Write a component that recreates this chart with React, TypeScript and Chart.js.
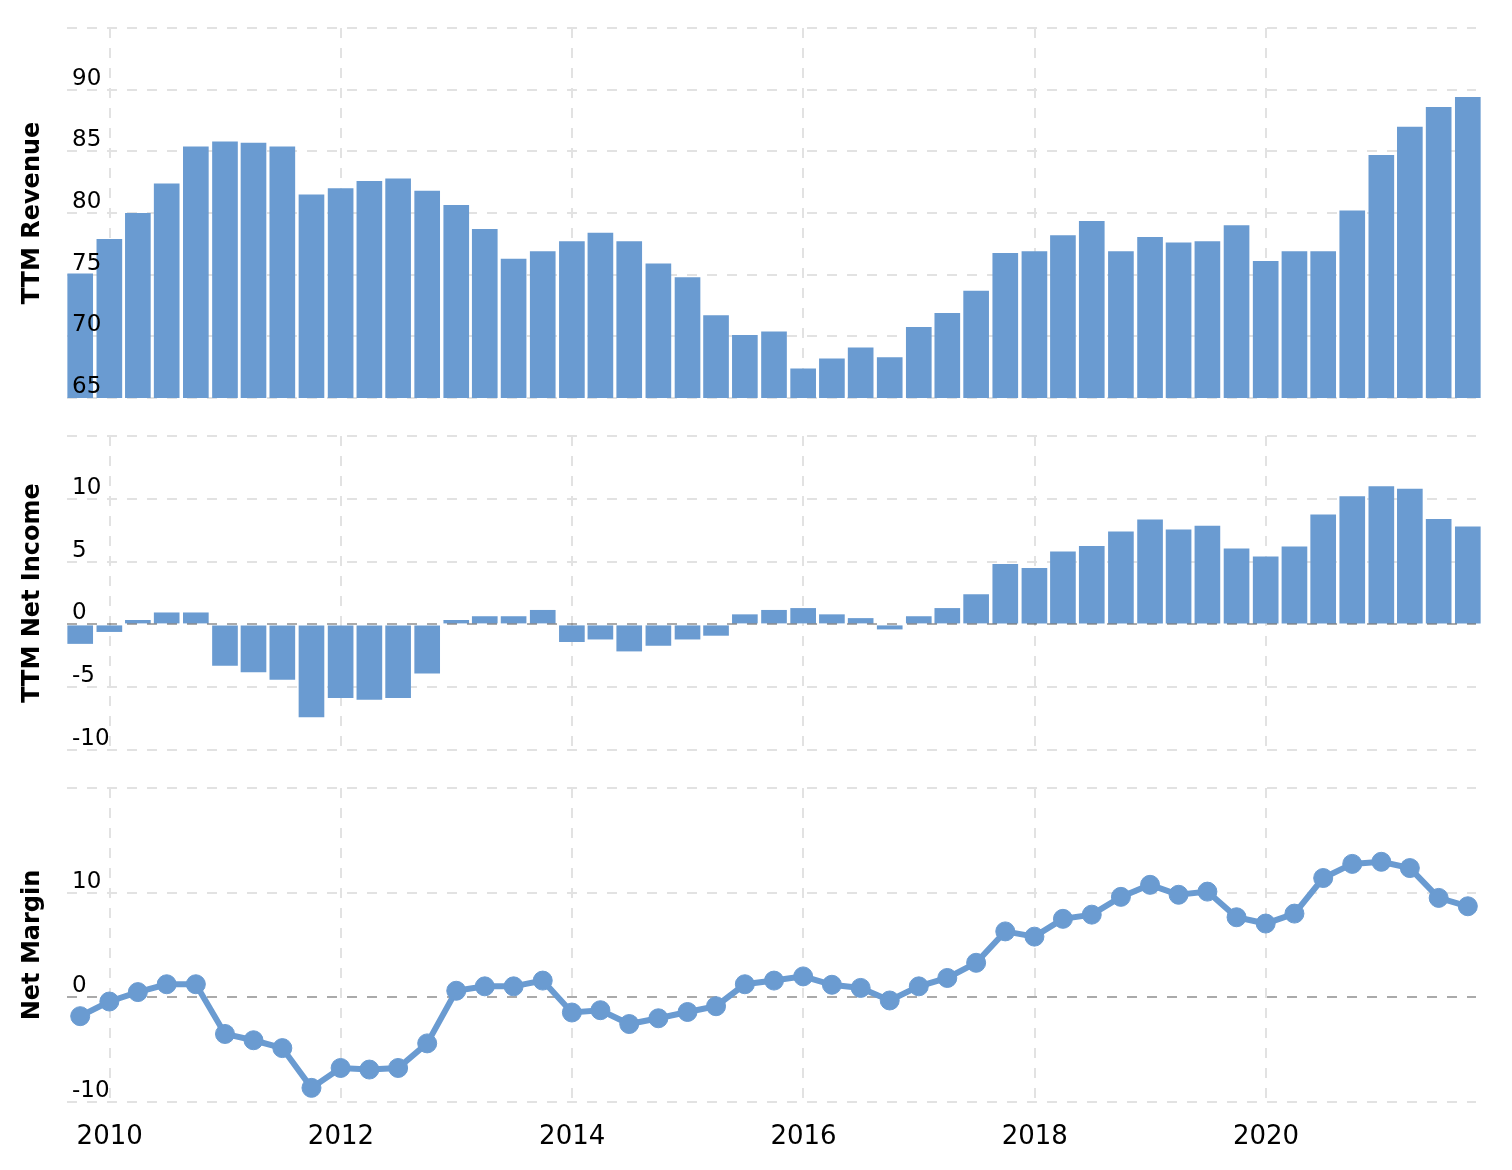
import React, { useEffect, useRef } from 'react';
import { Chart, registerables } from 'chart.js';

Chart.register(...registerables);

// ---------- data ----------
const quarterDates = [
  '2009-09-30', '2009-12-31',
  '2010-03-31', '2010-06-30', '2010-09-30', '2010-12-31',
  '2011-03-31', '2011-06-30', '2011-09-30', '2011-12-31',
  '2012-03-31', '2012-06-30', '2012-09-30', '2012-12-31',
  '2013-03-31', '2013-06-30', '2013-09-30', '2013-12-31',
  '2014-03-31', '2014-06-30', '2014-09-30', '2014-12-31',
  '2015-03-31', '2015-06-30', '2015-09-30', '2015-12-31',
  '2016-03-31', '2016-06-30', '2016-09-30', '2016-12-31',
  '2017-03-31', '2017-06-30', '2017-09-30', '2017-12-31',
  '2018-03-31', '2018-06-30', '2018-09-30', '2018-12-31',
  '2019-03-31', '2019-06-30', '2019-09-30', '2019-12-31',
  '2020-03-31', '2020-06-30', '2020-09-30', '2020-12-31',
  '2021-03-31', '2021-06-30', '2021-09-30',
];

const ttmRevenue = [
  75.1, 77.9,
  80.0, 82.4, 85.4, 85.8,
  85.7, 85.4, 81.5, 82.0,
  82.6, 82.8, 81.8, 80.65,
  78.7, 76.3, 76.9, 77.7,
  78.4, 77.7, 75.9, 74.8,
  71.7, 70.1, 70.4, 67.4,
  68.2, 69.1, 68.3, 70.75,
  71.9, 73.7, 76.75, 76.9,
  78.2, 79.35, 76.9, 78.05,
  77.6, 77.7, 79.0, 76.1,
  76.9, 76.9, 80.2, 84.7,
  87.0, 88.6, 89.4,
];

const ttmNetIncome = [
  -1.55, -0.6,
  0.35, 0.95, 0.95, -3.3,
  -3.8, -4.4, -7.4, -5.85,
  -6.0, -5.85, -3.9, 0.35,
  0.65, 0.65, 1.15, -1.4,
  -1.2, -2.15, -1.7, -1.2,
  -0.9, 0.8, 1.15, 1.3,
  0.8, 0.5, -0.4, 0.65,
  1.3, 2.4, 4.8, 4.5,
  5.8, 6.25, 7.4, 8.35,
  7.55, 7.85, 6.05, 5.4,
  6.2, 8.75, 10.2, 11.0,
  10.8, 8.4, 7.8,
];

const netMargin = [
  -1.8, -0.4,
  0.5, 1.25, 1.25, -3.5,
  -4.1, -4.85, -8.65, -6.75,
  -6.9, -6.75, -4.4, 0.63,
  1.05, 1.05, 1.6, -1.45,
  -1.23, -2.55, -2.0, -1.4,
  -0.85, 1.25, 1.6, 2.0,
  1.2, 0.9, -0.3, 1.05,
  1.85, 3.3, 6.3, 5.8,
  7.5, 7.9, 9.6, 10.75,
  9.8, 10.1, 7.65, 7.05,
  8.0, 11.4, 12.75, 12.95,
  12.35, 9.5, 8.7,
];

const yearTicks = [2010, 2012, 2014, 2016, 2018, 2020];

// ---------- styling ----------
const FONT = "'DejaVu Sans', 'Verdana', sans-serif";
const BLUE = '#6a9bd1';
const GRID = '#e2e2e2';
const X_MIN = 2009.631;
const X_MAX = 2021.816;

function toYear(d: string): number {
  const [y, m, day] = d.split('-').map(Number);
  const start = Date.UTC(y, 0, 1);
  const end = Date.UTC(y + 1, 0, 1);
  return y + (Date.UTC(y, m - 1, day) - start) / (end - start);
}

function xScale(showLabels: boolean): any {
  return {
    type: 'linear',
    min: X_MIN,
    max: X_MAX,
    offset: false,
    afterBuildTicks: (s: any) => {
      s.ticks = yearTicks.map((v) => ({ value: v }));
    },
    grid: { color: GRID, lineWidth: 2, drawTicks: false, offset: false },
    border: { display: false, dash: [10, 10] },
    ticks: {
      display: showLabels,
      padding: 20,
      color: '#000',
      autoSkip: false,
      maxRotation: 0,
      font: { family: FONT, size: 26 },
      callback: (v: any) => String(v),
    },
  };
}

function yScale(min: number, max: number, step: number, title: string, zeroColor: string): any {
  return {
    type: 'linear',
    position: 'left',
    min,
    max,
    afterFit: (s: any) => {
      s.width = 67;
      s.paddingTop = 0;
      s.paddingBottom = 0;
    },
    grid: {
      color: (ctx: any) => (ctx.tick && ctx.tick.value === 0 ? zeroColor : GRID),
      lineWidth: 2,
      drawTicks: false,
    },
    border: { display: false, dash: [10, 10] },
    ticks: {
      stepSize: step,
      mirror: true,
      padding: 5,
      labelOffset: -11,
      z: 1,
      color: '#000',
      font: { family: FONT, size: 23 },
      callback: (v: any) => (v === max ? '' : String(v)),
    },
    title: {
      display: true,
      text: title,
      color: '#000',
      font: { family: FONT, size: 24, weight: 'bold' },
      padding: { top: 18, bottom: 0 },
    },
  };
}

const zeroLineOnTop = {
  id: 'zeroLineOnTop',
  afterDatasetsDraw(chart: any) {
    const y = Math.round(chart.scales.y.getPixelForValue(0));
    const { left, right } = chart.chartArea;
    const ctx = chart.ctx;
    ctx.save();
    ctx.strokeStyle = 'rgba(0,0,0,0.33)';
    ctx.lineWidth = 2;
    ctx.setLineDash([10, 10]);
    ctx.beginPath();
    ctx.moveTo(left, y);
    ctx.lineTo(right, y);
    ctx.stroke();
    ctx.restore();
  },
};

function common(padding: any): any {
  return {
    responsive: false,
    animation: false,
    events: [],
    layout: { padding },
    plugins: { legend: { display: false }, tooltip: { enabled: false } },
  };
}

export default function App() {
  const r1 = useRef<HTMLCanvasElement>(null);
  const r2 = useRef<HTMLCanvasElement>(null);
  const r3 = useRef<HTMLCanvasElement>(null);

  useEffect(() => {
    const xs = quarterDates.map(toYear);
    const pts = (vals: number[]) => vals.map((v, i) => ({ x: xs[i], y: v }));
    const barClip = { left: 0, top: 0, right: 8, bottom: 0 };

    const c1 = new Chart(r1.current as HTMLCanvasElement, {
      type: 'bar',
      data: {
        datasets: [
          {
            data: pts(ttmRevenue),
            backgroundColor: BLUE,
            barPercentage: 0.9,
            categoryPercentage: 1,
            clip: barClip,
          } as any,
        ],
      },
      options: {
        ...common({ top: 28, bottom: 22, left: 0, right: 36 }),
        scales: { x: xScale(false), y: yScale(65, 95, 5, 'TTM Revenue', GRID) },
      },
    });

    const c2 = new Chart(r2.current as HTMLCanvasElement, {
      type: 'bar',
      data: {
        datasets: [
          {
            data: pts(ttmNetIncome),
            backgroundColor: BLUE,
            barPercentage: 0.9,
            categoryPercentage: 1,
            clip: barClip,
          } as any,
        ],
      },
      options: {
        ...common({ top: 26, bottom: 20, left: 0, right: 36 }),
        scales: { x: xScale(false), y: yScale(-10, 15, 5, 'TTM Net Income', 'rgba(0,0,0,0)') },
      },
      plugins: [zeroLineOnTop],
    });

    const c3 = new Chart(r3.current as HTMLCanvasElement, {
      type: 'line',
      data: {
        datasets: [
          {
            data: pts(netMargin),
            borderColor: BLUE,
            backgroundColor: BLUE,
            borderWidth: 6,
            pointRadius: 9.5,
            pointBorderWidth: 1,
            pointBorderColor: BLUE,
            pointBackgroundColor: BLUE,
            tension: 0,
            fill: false,
            clip: false,
          } as any,
        ],
      },
      options: {
        ...common({ top: 18, bottom: 1.8, left: 0, right: 36 }),
        scales: { x: xScale(true), y: yScale(-10, 20, 10, 'Net Margin', '#aaaaaa') },
      },
    });

    return () => {
      c1.destroy();
      c2.destroy();
      c3.destroy();
    };
  }, []);

  return (
    <div style={{ position: 'absolute', left: 0, top: 0, width: 1512, height: 1175, background: '#fff' }}>
      <canvas ref={r1} width={1512} height={420} style={{ position: 'absolute', left: 0, top: 0 }} />
      <canvas ref={r2} width={1512} height={360} style={{ position: 'absolute', left: 0, top: 410 }} />
      <canvas ref={r3} width={1512} height={405} style={{ position: 'absolute', left: 0, top: 770 }} />
    </div>
  );
}
